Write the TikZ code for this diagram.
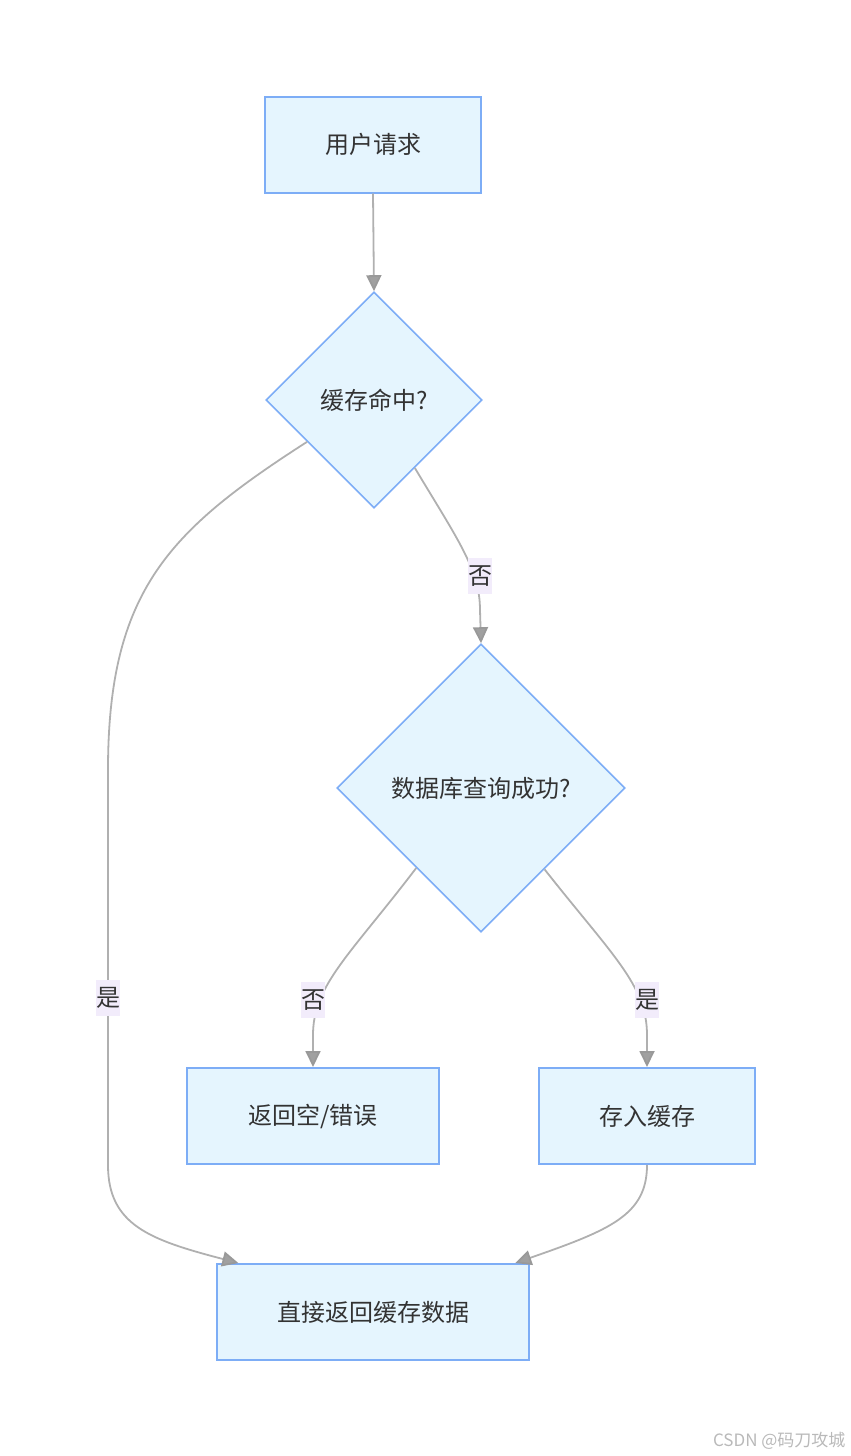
\documentclass[tikz,border=0pt]{standalone}
\usepackage{fontspec}
\setmainfont{Noto Sans CJK SC}
\usetikzlibrary{shapes.geometric,arrows.meta}
\definecolor{boxfill}{HTML}{E5F5FE}
\definecolor{boxline}{HTML}{7DADF6}
\definecolor{edgeline}{HTML}{B0B0B0}
\definecolor{tipfill}{HTML}{A0A0A0}
\definecolor{labelbg}{HTML}{F2ECFB}
\definecolor{textcol}{HTML}{333333}

\begin{document}
\begin{tikzpicture}[x=1pt, y=-1pt,
                    >={Triangle[length=16pt,width=15pt,fill=tipfill,color=gray!80]},
                    every node/.style={text=textcol, font=\fontsize{24}{28}\selectfont},
                    stepbox/.style={draw=boxline, fill=boxfill, line width=2pt,
                                    inner sep=0pt, minimum height=96pt},
                    test/.style={diamond, aspect=1, draw=boxline, fill=boxfill,
                                 line width=1.6pt, inner sep=0pt},
                    edge/.style={draw=edgeline, line width=1.8pt, ->},
                    tag/.style={fill=labelbg, inner sep=0pt,
                                minimum width=24pt, minimum height=36pt}
                   ]
\useasboundingbox (0,0) rectangle (851,1456);

\node [stepbox, minimum width=216pt] (req) at (373,144.5) {用户请求};
\node [test, minimum width=216pt, minimum height=216pt] (hit) at (374,400) {缓存命中?};
\node [test, minimum width=288pt, minimum height=288pt] (db) at (481,788) {数据库查询成功?};
\node [stepbox, minimum width=252pt] (err) at (313,1116) {返回空/错误};
\node [stepbox, minimum width=216pt] (save) at (647,1116) {存入缓存};
\node [stepbox, minimum width=312pt] (ret) at (373,1312) {直接返回缓存数据};

\draw [edge] (req.south) -- (hit.north);
\draw [edge] (hit.-59) .. controls (458,540) and (480,570) .. (480,610) -- (db.north);
\draw [edge] (hit.212) .. controls (170,530) and (108,590) .. (108,770)
             -- (108,1165) .. controls (108,1225) and (150,1240) .. (ret.160);
\draw [edge] (db.231) .. controls (350,955) and (313,985) .. (313,1035) -- (err.north);
\draw [edge] (db.308) .. controls (612,955) and (647,985) .. (647,1035) -- (save.north);
\draw [edge] (save.south) .. controls (647,1215) and (610,1230) .. (ret.19);

\node [tag] (no1) at (480,576) {否};
\node [tag] (yes1) at (108,998) {是};
\node [tag] (no2) at (313,1000) {否};
\node [tag] (yes2) at (647,1000) {是};

\node [anchor=east, text=gray!55, font=\fontsize{17}{19}\selectfont] (mark) at (849,1441) {CSDN @码刀攻城};
\end{tikzpicture}
\end{document}
